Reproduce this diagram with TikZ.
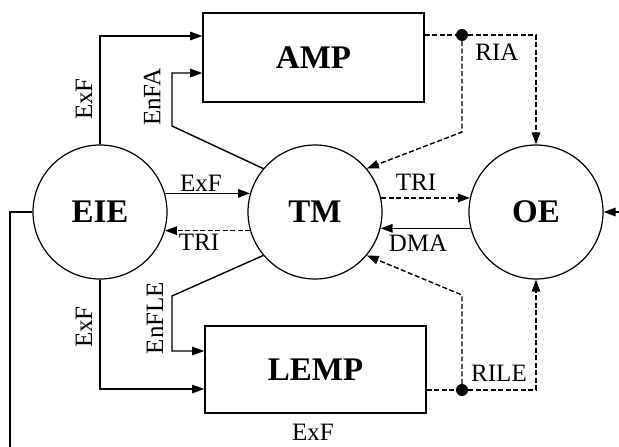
\documentclass[tikz,border=0pt]{standalone}
\usepackage{fontspec}
\setmainfont{Liberation Serif}
\usetikzlibrary{arrows.meta}
\begin{document}
\begin{tikzpicture}[x=1pt,y=-1pt,
  lbl/.style={font=\fontsize{25}{28}\selectfont, inner sep=0pt},
  big/.style={font=\fontsize{33}{36}\selectfont\bfseries},
  circ/.style={draw, circle, line width=1.2pt, minimum size=134pt, inner sep=0pt, big},
  box/.style={draw, rectangle, line width=1.6pt, minimum width=221pt, big},
  arr/.style={line width=1.4pt, -{Triangle[length=12pt,width=8.5pt]}},
  ln/.style={line width=1.4pt},
  dsh/.style={line width=1.4pt, dash pattern=on 5pt off 2.5pt},
  dot/.style={circle, fill, inner sep=0pt, minimum size=12pt}]
\useasboundingbox (0,0) rectangle (619,447);
% nodes
\node[circ] (EIE) at (100,212) {EIE};
\node[circ] (TM) at (315,212) {TM};
\node[circ] (OE) at (536,212) {OE};
\node[box, minimum height=89pt] (AMP) at (313.5,57.5) {AMP};
\node[box, minimum height=87pt] (LEMP) at (315.5,369.5) {LEMP};
\node[dot] (d1) at (462,35) {};
\node[dot] (d2) at (462,390) {};
% EIE -> AMP, LEMP
\draw[arr] (EIE.north) |- ([yshift=21.5pt]AMP.west);
\draw[arr] (EIE.south) |- ([yshift=-19.5pt]LEMP.west);
% TM -> AMP, LEMP
\draw[arr] (TM.140) -- (172,126) |- ([yshift=-15.5pt]AMP.west);
\draw[arr] (TM.220) -- (172,296) |- ([yshift=18.5pt]LEMP.west);
% EIE <-> TM
\draw[arr] (EIE.16) -- (TM.164);
\draw[arr,dsh] (TM.196) -- (EIE.-16);
% TM <-> OE
\draw[arr,dsh] (TM.12) -- (OE.168);
\draw[arr] (OE.194) -- (TM.-14);
% AMP outputs
\draw[dsh] (AMP.east|-d1) -- (d1);
\draw[arr,dsh] (d1) -- (536,35) -- (OE.north);
\draw[arr,dsh] (d1) -- (462,132) -- (TM.40);
% LEMP outputs
\draw[dsh] (LEMP.east|-d2) -- (d2);
\draw[arr,dsh] (d2) -- (536,390) -- (OE.south);
\draw[arr,dsh] (d2) -- (462,295) -- (TM.-40);
% feedback loop
\begin{scope}
\clip (0,0) rectangle (619,447);
\draw[arr] (EIE.west) -- (10,212) -- (10,470) -- (640,470) -- (640,212) -- (OE.east);
\end{scope}
% labels
\node[lbl, rotate=90] (l1) at (84,99) {ExF};
\node[lbl, rotate=90] (l2) at (152,97) {EnFA};
\node[lbl] (l3) at (201,183) {ExF};
\node[lbl] (l4) at (199,242) {TRI};
\node[lbl] (l5) at (416,182) {TRI};
\node[lbl] (l6) at (418,243) {DMA};
\node[lbl] (l7) at (497,52) {RIA};
\node[lbl] (l8) at (499,373) {RILE};
\node[lbl, rotate=90] (l9) at (84,327) {ExF};
\node[lbl, rotate=90] (l10) at (155,318) {EnFLE};
\node[lbl] (l11) at (313,432) {ExF};
\end{tikzpicture}
\end{document}
